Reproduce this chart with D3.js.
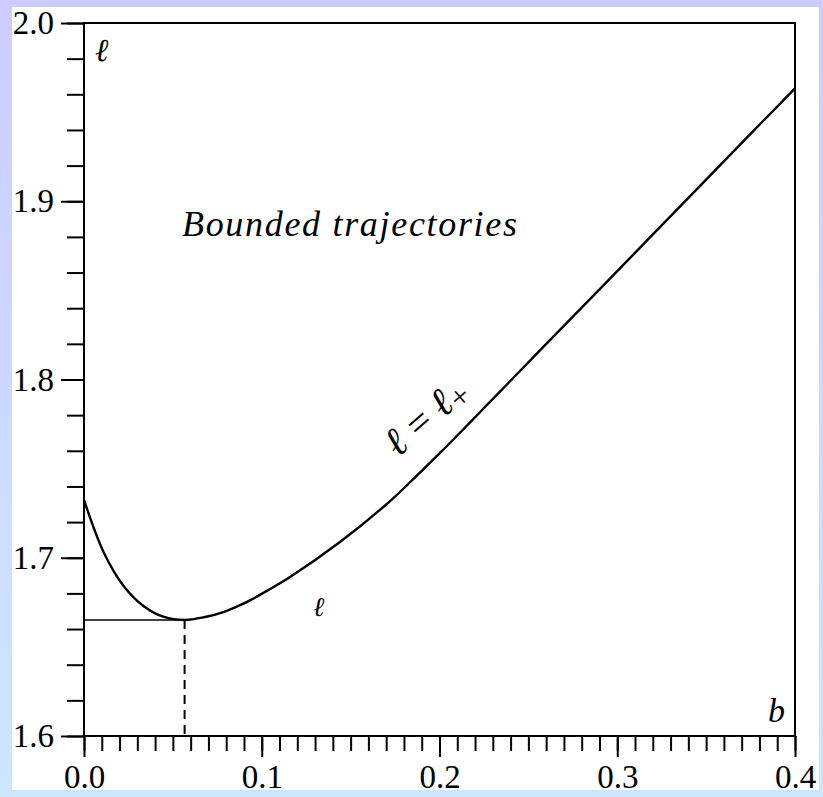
<!DOCTYPE html>
<html>
<head>
<meta charset="utf-8">
<script src="https://cdn.jsdelivr.net/npm/d3@7/dist/d3.min.js"></script>
<style>
html, body { margin: 0; padding: 0; }
body {
    width: 823px;
    height: 797px;
    overflow: hidden;
    background: linear-gradient(#ccccff, #cce6ff);
}
text { font-family: "Liberation Serif", "Times New Roman", serif; }
</style>
</head>
<body>
<svg id="chart" width="823" height="797"></svg>
<script>
// curve l = l+ (b)
const bValues = [0, 0.01125, 0.0225, 0.0338, 0.045, 0.0565, 0.0675, 0.0788, 0.09, 0.1013, 0.1159, 0.144, 0.1722, 0.189, 0.2003, 0.2284, 0.2565, 0.2903, 0.3184, 0.3466, 0.3747, 0.4];
const ellValues = [1.7324, 1.7027, 1.6839, 1.6727, 1.6668, 1.6651, 1.6666, 1.6697, 1.6744, 1.6805, 1.6892, 1.7088, 1.7318, 1.7478, 1.7588, 1.7874, 1.8163, 1.8508, 1.8797, 1.9086, 1.9375, 1.9633];

// minimum of the curve: horizontal line + dashed drop
const bMin = 0.0566;
const ellMin = 1.6651;

const xMajor = [0, 0.1, 0.2, 0.3, 0.4];
const xTickLabels = ["0.0", "0.1", "0.2", "0.3", "0.4"];
const yMajor = [1.6, 1.7, 1.8, 1.9, 2.0];
const yTickLabels = ["1.6", "1.7", "1.8", "1.9", "2.0"];
const xMinor = d3.range(0, 41).map(function (i) { return i / 100; });
const yMinor = d3.range(0, 21).map(function (i) { return 1.6 + i / 50; });

const svg = d3.select("#chart");

const x = d3.scaleLinear().domain([0, 0.4]).range([84, 795]);
const y = d3.scaleLinear().domain([1.6, 2.0]).range([736, 23]);

// white card
svg.append("rect")
    .attr("x", 12).attr("y", 7)
    .attr("width", 807).attr("height", 783)
    .attr("fill", "#fff");

// ticks
function styleAxis(g) {
    g.select(".domain").remove();
    g.selectAll("line").attr("stroke", "#000").attr("stroke-width", 2);
    g.selectAll("text")
        .attr("fill", "#000")
        .style("font-family", '"Liberation Serif", "Times New Roman", serif')
        .style("font-size", "33px");
}

svg.append("g")
    .attr("transform", "translate(0,736)")
    .call(d3.axisBottom(x).tickValues(xMinor).tickSize(15).tickFormat(""))
    .call(styleAxis);

svg.append("g")
    .attr("transform", "translate(0,736)")
    .call(d3.axisBottom(x).tickValues(xMajor).tickSize(21).tickPadding(8)
        .tickFormat(function (d, i) { return xTickLabels[i]; }))
    .call(styleAxis);

svg.append("g")
    .attr("transform", "translate(84,0)")
    .call(d3.axisLeft(y).tickValues(yMinor).tickSize(17).tickFormat(""))
    .call(styleAxis);

svg.append("g")
    .attr("transform", "translate(84,0)")
    .call(d3.axisLeft(y).tickValues(yMajor).tickSize(23).tickPadding(7)
        .tickFormat(function (d, i) { return yTickLabels[i]; }))
    .call(styleAxis);

// frame
svg.append("rect")
    .attr("x", x(0)).attr("y", y(2.0))
    .attr("width", x(0.4) - x(0)).attr("height", y(1.6) - y(2.0))
    .attr("fill", "none")
    .attr("stroke", "#000")
    .attr("stroke-width", 2);

// horizontal line at the minimum
svg.append("line")
    .attr("x1", x(0)).attr("x2", x(bMin))
    .attr("y1", y(ellMin)).attr("y2", y(ellMin))
    .attr("stroke", "#000")
    .attr("stroke-width", 1.6);

// dashed drop
svg.append("line")
    .attr("x1", x(bMin)).attr("x2", x(bMin))
    .attr("y1", y(ellMin)).attr("y2", y(1.6))
    .attr("stroke", "#000")
    .attr("stroke-width", 2)
    .attr("stroke-dasharray", "9,6");

// the curve
const points = bValues.map(function (b, i) { return [b, ellValues[i]]; });
const line = d3.line()
    .x(function (d) { return x(d[0]); })
    .y(function (d) { return y(d[1]); })
    .curve(d3.curveCatmullRom.alpha(0.5));

svg.append("path")
    .datum(points)
    .attr("d", line)
    .attr("fill", "none")
    .attr("stroke", "#000")
    .attr("stroke-width", 2.4);

// labels
svg.append("text")
    .attr("x", 95).attr("y", 61)
    .style("font-style", "italic")
    .style("font-size", "32px")
    .text("ℓ");

svg.append("text")
    .attr("x", 768).attr("y", 722)
    .style("font-style", "italic")
    .style("font-size", "34px")
    .text("b");

svg.append("text")
    .attr("x", 313).attr("y", 616)
    .style("font-style", "italic")
    .style("font-size", "27px")
    .text("ℓ");

svg.append("text")
    .attr("x", 182).attr("y", 236)
    .attr("textLength", 335)
    .attr("lengthAdjust", "spacing")
    .style("font-style", "italic")
    .style("font-size", "36px")
    .text("Bounded trajectories");

const eq = svg.append("text")
    .attr("transform", "translate(398,458) rotate(-41)")
    .style("font-style", "italic")
    .style("font-size", "40px");
eq.append("tspan").text("ℓ");
eq.append("tspan").attr("dx", 11).style("font-style", "normal").text("=");
eq.append("tspan").attr("dx", 10).text("ℓ");
eq.append("tspan").attr("dx", 1).attr("dy", 5).style("font-style", "normal").style("font-size", "32px").text("+");
</script>
</body>
</html>
